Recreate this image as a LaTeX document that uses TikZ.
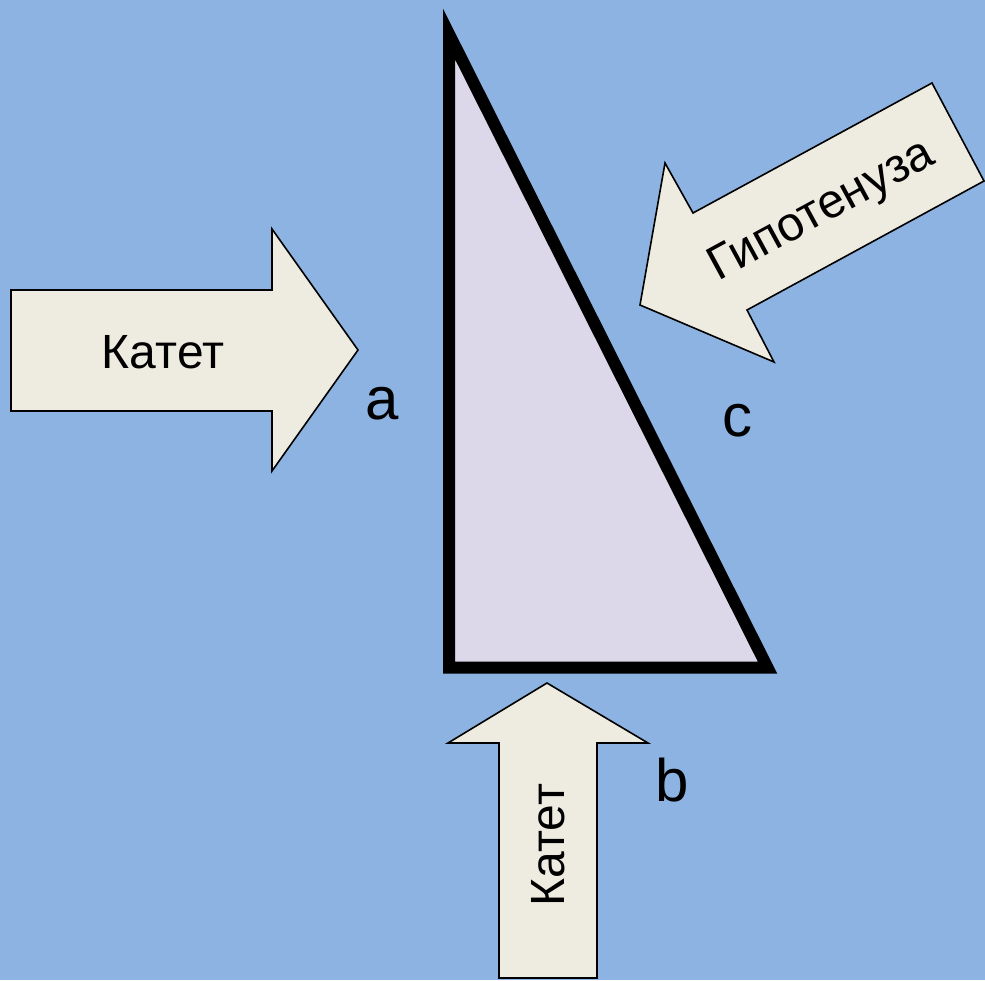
\documentclass[tikz,border=0pt]{standalone}
\usepackage{fontspec}
\setmainfont{Liberation Sans}
\definecolor{bg}{HTML}{8DB3E2}
\definecolor{arrowfill}{HTML}{EEECE1}
\definecolor{trifill}{HTML}{DDD8E9}
\begin{document}
\begin{tikzpicture}[x=1pt,y=-1pt,
  arrowshape/.style={fill=arrowfill,draw=black,line width=1.6pt,line join=miter},
  arrowtext/.style={font=\fontsize{48}{56}\selectfont,inner sep=0pt},
  sidelabel/.style={font=\fontsize{60}{70}\selectfont,inner sep=0pt}]
\fill[bg] (0,0) rectangle (985,980);
\useasboundingbox (0,0) rectangle (985,980);
% triangle
\draw[fill=trifill,line width=12pt,line join=miter] (449,34) -- (449,667.5) -- (767.5,667.5) -- cycle;
% left arrow
\draw[arrowshape] (11,290) -- (272,290) -- (272,229) -- (358,350) -- (272,471) -- (272,411) -- (11,411) -- cycle;
\node[arrowtext] (k1) at (163,352) {Катет};
% hypotenuse arrow
\draw[arrowshape] (932,83) -- (984,181) -- (747,310) -- (774,362) -- (640,305) -- (665,163) -- (693,213) -- cycle;
\node[arrowtext,rotate=28.5] (h) at (822,212) {Гипотенуза};
% bottom arrow
\draw[arrowshape] (547,683) -- (648,743) -- (597,743) -- (597,978) -- (499,978) -- (499,743) -- (448,743) -- cycle;
\node[arrowtext,rotate=90] (k2) at (548,845) {Катет};
% labels
\node[sidelabel] (a) at (382,404) {a};
\node[sidelabel] (c) at (737,421) {c};
\node[sidelabel] (b) at (672,780) {b};
\end{tikzpicture}
\end{document}
